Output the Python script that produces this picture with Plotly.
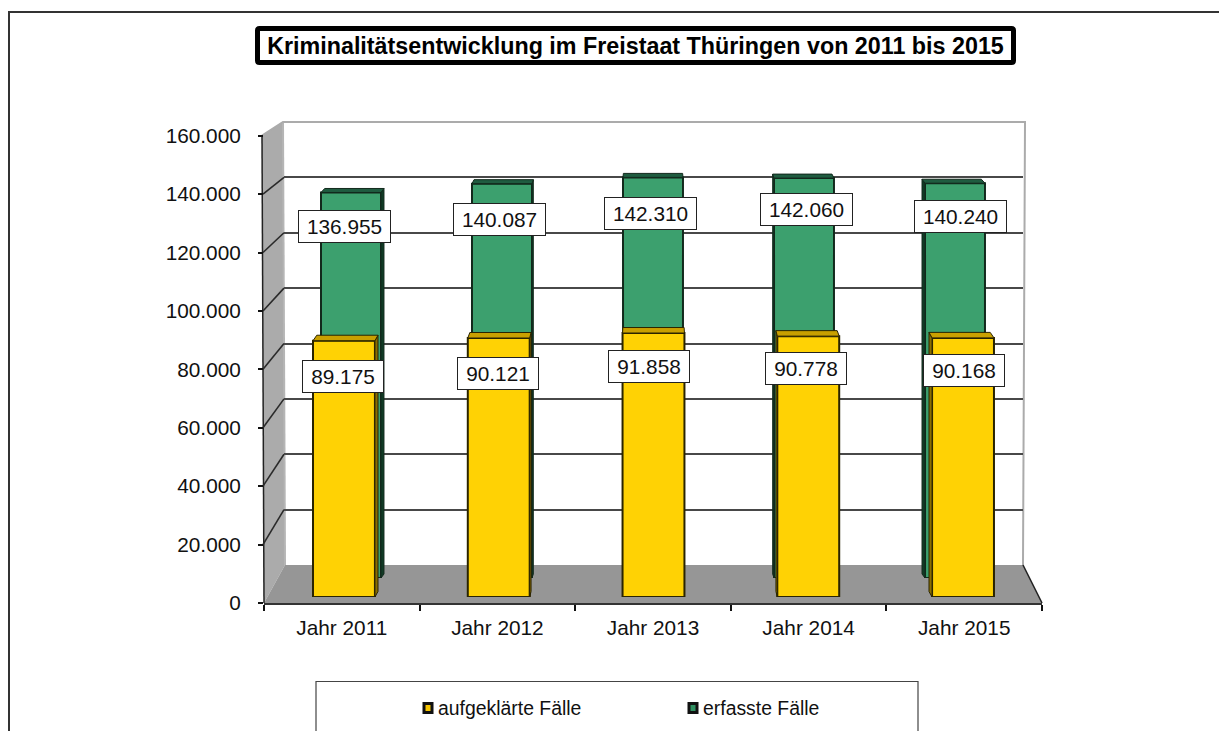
import plotly.graph_objects as go

# ---- data ----
years = ["Jahr 2011", "Jahr 2012", "Jahr 2013", "Jahr 2014", "Jahr 2015"]
aufgeklaerte = [89175, 90121, 91858, 90778, 90168]
erfasste = [136955, 140087, 142310, 142060, 140240]
y_ticks = [0, 20000, 40000, 60000, 80000, 100000, 120000, 140000, 160000]
title_text = "Kriminalitätsentwicklung im Freistaat Thüringen von 2011 bis 2015"
legend_names = ["aufgeklärte Fälle", "erfasste Fälle"]

# ---- page geometry (pixels) ----
W, H = 1219, 731
FONT = "Liberation Sans, Arial, sans-serif"
YMAX = 160000
def px(x): return x / W
def py(y): return 1 - y / H
def fmt(v): return f"{v:,}".replace(",", ".")

FRONT = dict(x0=264, x1=1042, top=135.7, base=603)
BACK = dict(x0=284, x1=1023, top=122, base=565)
GREEN = dict(x0=275.5, x1=1030.5, top=127.6, base=578, width=0.397, depth=4, persp=0.011)
YELLOW = dict(x0=266.6, x1=1040.4, top=137.2, base=597, width=0.40, depth=5.5, persp=0.011)
VANISH_X = 653

green_label_pos = [(344, 226), (499, 219.7), (650, 213), (806.7, 209.7), (960, 216)]
yellow_label_pos = [(343, 376), (497.5, 373), (649, 366.5), (806, 368.5), (964, 370)]

fig = go.Figure()

def dom_x(g): return [px(g["x0"]), px(g["x1"])]
def dom_y(g): return [py(g["base"]), py(g["top"])]

def faces(values, g):
    """Top and side faces of the extruded bars, derived from the values."""
    unit_x = (g["x1"] - g["x0"]) / 5
    unit_y = (g["base"] - g["top"]) / YMAX
    tx, ty, sx, sy = [], [], [], []
    for i, v in enumerate(values):
        left, right = i - g["width"] / 2, i + g["width"] / 2
        def pxpos(c): return g["x0"] + (c + 0.5) * unit_x
        bl = left + (VANISH_X - pxpos(left)) * g["persp"] / unit_x
        br = right + (VANISH_X - pxpos(right)) * g["persp"] / unit_x
        d = g["depth"] / unit_y
        tx += [left, bl, br, right, left, None]
        ty += [v, v + d, v + d, v, v, None]
        if br > right + 1e-6:      # right side visible
            sx += [right, br, br, right, right, None]
            sy += [0, d, v + d, v, 0, None]
        elif bl < left - 1e-6:     # left side visible
            sx += [left, bl, bl, left, left, None]
            sy += [0, d, v + d, v, 0, None]
    return tx, ty, sx, sy

def add_series(name, values, g, xa, ya, front, top, side, edge):
    tx, ty, sx, sy = faces(values, g)
    fig.add_trace(go.Bar(name=name, x=list(range(5)), y=values, width=g["width"],
                         marker=dict(color=front, line=dict(color=edge, width=2)),
                         xaxis=xa, yaxis=ya, showlegend=False))
    fig.add_trace(go.Scatter(x=sx, y=sy, mode="lines", fill="toself", fillcolor=side,
                             line=dict(color=edge, width=1), xaxis=xa, yaxis=ya,
                             showlegend=False, hoverinfo="skip"))
    fig.add_trace(go.Scatter(x=tx, y=ty, mode="lines", fill="toself", fillcolor=top,
                             line=dict(color=edge, width=1), xaxis=xa, yaxis=ya,
                             showlegend=False, hoverinfo="skip"))

# empty trace so that the back-wall subplot (grid) exists first
fig.add_trace(go.Scatter(x=[0], y=[0], mode="markers", marker=dict(opacity=0),
                         xaxis="x", yaxis="y", showlegend=False, hoverinfo="skip"))
add_series(legend_names[1], erfasste, GREEN, "x2", "y2", "#3CA06E", "#1F5C40", "#103A25", "#12291C")
add_series(legend_names[0], aufgeklaerte, YELLOW, "x3", "y3", "#FFD204", "#C9A000", "#8A6E00", "#2A2400")
# front axes: category axis with the tick marks on the category boundaries
fig.add_trace(go.Scatter(x=years, y=[0] * 5, mode="markers", marker=dict(opacity=0),
                         xaxis="x4", yaxis="y4", showlegend=False, hoverinfo="skip"))

hidden = dict(visible=False, fixedrange=True)
layout = dict(
    width=W, height=H, margin=dict(l=0, r=0, t=0, b=0, pad=0, autoexpand=False), autosize=False,
    paper_bgcolor="white", plot_bgcolor="rgba(0,0,0,0)", showlegend=False,
    font=dict(family=FONT, color="#111111"),
    title=dict(text="<b>" + title_text + "</b>", x=px(635.5), y=py(45.5), xanchor="center",
               yanchor="middle", xref="container", yref="container", automargin=False,
               font=dict(family=FONT, size=23.3, color="black")),
    xaxis=dict(domain=dom_x(BACK), range=[0, 1], **hidden),
    yaxis=dict(domain=dom_y(BACK), range=[0, YMAX], showgrid=True, gridcolor="#484848", gridwidth=2.2,
               tickvals=y_ticks[1:-1], showticklabels=False, ticks="", zeroline=False,
               showline=False, fixedrange=True, anchor="x"),
    xaxis2=dict(domain=dom_x(GREEN), range=[-0.5, 4.5], anchor="y2", **hidden),
    yaxis2=dict(domain=dom_y(GREEN), range=[0, YMAX], anchor="x2", **hidden),
    xaxis3=dict(domain=dom_x(YELLOW), range=[-0.5, 4.5], anchor="y3", **hidden),
    yaxis3=dict(domain=dom_y(YELLOW), range=[0, YMAX], anchor="x3", **hidden),
    xaxis4=dict(domain=[px(FRONT["x0"]), px(FRONT["x1"])], type="category", categoryorder="array",
                categoryarray=years, range=[-0.5, 4.5], tickson="boundaries", ticks="outside", ticklen=6,
                tickcolor="#111111", tickwidth=1.5, showline=True, linecolor="#333333", linewidth=2,
                showgrid=False, zeroline=False, anchor="y4", fixedrange=True,
                tickfont=dict(family=FONT, size=20.8, color="#111111"), ticklabelstandoff=5),
    yaxis4=dict(domain=[py(FRONT["base"]), py(FRONT["top"])], range=[0, YMAX], tickvals=y_ticks,
                ticktext=[fmt(v) for v in y_ticks], ticks="outside", ticklen=5, tickcolor="#111111",
                tickwidth=1.5, showline=False, showgrid=False, zeroline=False, anchor="x4",
                fixedrange=True, tickfont=dict(family=FONT, size=20.8, color="#111111"),
                ticklabelstandoff=13),
)
fig.update_layout(**layout)

# ---- chart furniture ----
shapes = []
def poly(points, fill=None, color=None, width=1, layer="below"):
    d = "M" + "L".join(f"{px(x)},{py(y)}" for x, y in points)
    if fill:
        d += "Z"
    s = dict(type="path", path=d, xref="paper", yref="paper", layer=layer,
             line=dict(color=color or "rgba(0,0,0,0)", width=width if color else 0))
    if fill:
        s["fillcolor"] = fill
    shapes.append(s)

FT, FB, BT, BB = FRONT["top"], FRONT["base"], BACK["top"], BACK["base"]
# outer frame, open to the right and bottom of the page
poly([(9, 740), (9, 12), (1230, 12)], color="#333333", width=2)
# left wall and floor
poly([(262, FT), (BACK["x0"] - 1, BT), (BACK["x0"] + 1, BB), (264, FB)], fill="#ABABAB")
poly([(264, FB), (BACK["x0"] + 1, BB), (BACK["x1"], BB), (FRONT["x1"], FB)], fill="#969696")
# back wall edge
poly([(BACK["x0"] - 1, BT), (BACK["x0"] + 1, BB)], color="#B5B5B5", width=2)
poly([(262, FT), (BACK["x0"] - 1, BT), (BACK["x1"] + 2, BT), (BACK["x1"], BB)], color="#ABABAB", width=2)
# dark edges
poly([(262, FT), (264, FB)], color="#222222", width=1.5)
poly([(BACK["x1"], BB), (FRONT["x1"], FB)], color="#222222", width=1.5)
# grid lines running over the left wall
for v in y_ticks[1:-1]:
    yf = FB - (FB - FT) * v / YMAX
    yb = BB - (BB - BT) * v / YMAX
    poly([(263, yf), (BACK["x0"], yb)], color="#2A2A2A", width=1.6)
# title frame
x0, x1, y0, y1, r = 257.5, 1013.5, 28.5, 62.5, 2
shapes.append(dict(type="path", xref="paper", yref="paper", layer="above", line=dict(color="black", width=5),
                   path=(f"M{px(x0+r)},{py(y0)}L{px(x1-r)},{py(y0)}Q{px(x1)},{py(y0)} {px(x1)},{py(y0+r)}"
                         f"L{px(x1)},{py(y1-r)}Q{px(x1)},{py(y1)} {px(x1-r)},{py(y1)}"
                         f"L{px(x0+r)},{py(y1)}Q{px(x0)},{py(y1)} {px(x0)},{py(y1-r)}"
                         f"L{px(x0)},{py(y0+r)}Q{px(x0)},{py(y0)} {px(x0+r)},{py(y0)}Z")))
# legend frame and swatches
shapes.append(dict(type="rect", xref="paper", yref="paper", x0=px(316), x1=px(918), y0=py(740), y1=py(681.5),
                   line=dict(color="#444444", width=1.2), fillcolor="white", layer="below"))
for xs, c in ((422.5, "#F5C400"), (687.5, "#2F8F60")):
    shapes.append(dict(type="rect", xref="paper", yref="paper", x0=px(xs + 1.5), x1=px(xs + 9.5),
                       y0=py(712.5), y1=py(703.5), fillcolor=c, line=dict(color="#111111", width=3),
                       layer="above"))
fig.update_layout(shapes=shapes)

# ---- labels ----
ann = []
def box_label(v, pos, w):
    ann.append(dict(text=fmt(v), x=px(pos[0]), y=py(pos[1]), xref="paper", yref="paper", xanchor="center",
                    yanchor="middle", showarrow=False, bgcolor="white", bordercolor="#222222", borderwidth=1,
                    borderpad=0, width=w, height=31, align="center", valign="middle",
                    font=dict(family=FONT, size=20.8, color="#111111")))
for v, p in zip(erfasste, green_label_pos):
    box_label(v, p, 91)
for v, p in zip(aufgeklaerte, yellow_label_pos):
    box_label(v, p, 80)
for name, xt in zip(legend_names, (436.5, 701.5)):
    ann.append(dict(text=name, x=px(xt), y=py(708), xref="paper", yref="paper", xanchor="left", yanchor="middle",
                    showarrow=False, borderpad=0, font=dict(family=FONT, size=19.4, color="#111111")))
fig.update_layout(annotations=ann)

fig.write_html("out.html", post_script="document.body.style.margin='0';document.documentElement.style.overflow='hidden';",
               config=dict(displayModeBar=False))
